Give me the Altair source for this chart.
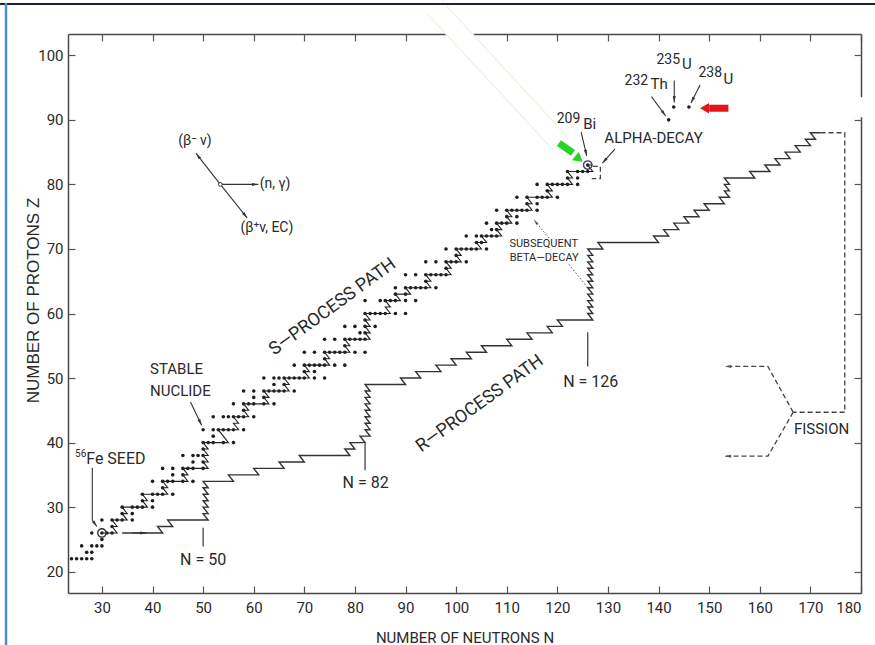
import math
import altair as alt
import pandas as pd

# ------------------------------------------------------------------
# Stable nuclides: mass numbers A of the stable isotopes for each Z
# ------------------------------------------------------------------
stable_mass = {
    22: [46, 47, 48, 49, 50],                                   # Ti
    23: [50, 51],                                               # V
    24: [50, 52, 53, 54],                                       # Cr
    25: [55],                                                   # Mn
    26: [54, 56, 57, 58],                                       # Fe
    27: [59],                                                   # Co
    28: [58, 60, 61, 62, 64],                                   # Ni
    29: [63, 65],                                               # Cu
    30: [64, 66, 67, 68, 70],                                   # Zn
    31: [69, 71],                                               # Ga
    32: [70, 72, 73, 74, 76],                                   # Ge
    33: [75],                                                   # As
    34: [74, 76, 77, 78, 80, 82],                               # Se
    35: [79, 81],                                               # Br
    36: [78, 80, 82, 83, 84, 86],                               # Kr
    37: [85, 87],                                               # Rb
    38: [84, 86, 87, 88],                                       # Sr
    39: [89],                                                   # Y
    40: [90, 91, 92, 94, 96],                                   # Zr
    41: [93],                                                   # Nb
    42: [92, 94, 95, 96, 97, 98, 100],                          # Mo
    44: [96, 98, 99, 100, 101, 102, 104],                       # Ru
    45: [103],                                                  # Rh
    46: [102, 104, 105, 106, 108, 110],                         # Pd
    47: [107, 109],                                             # Ag
    48: [106, 108, 110, 111, 112, 113, 114, 116],               # Cd
    49: [113, 115],                                             # In
    50: [112, 114, 115, 116, 117, 118, 119, 120, 122, 124],     # Sn
    51: [121, 123],                                             # Sb
    52: [120, 122, 123, 124, 125, 126, 128, 130],               # Te
    53: [127],                                                  # I
    54: [124, 126, 128, 129, 130, 131, 132, 134, 136],          # Xe
    55: [133],                                                  # Cs
    56: [130, 132, 134, 135, 136, 137, 138],                    # Ba
    57: [138, 139],                                             # La
    58: [136, 138, 140, 142],                                   # Ce
    59: [141],                                                  # Pr
    60: [142, 143, 144, 145, 146, 148, 150],                    # Nd
    62: [144, 147, 148, 149, 150, 152, 154],                    # Sm
    63: [151, 153],                                             # Eu
    64: [152, 154, 155, 156, 157, 158, 160],                    # Gd
    65: [159],                                                  # Tb
    66: [156, 158, 160, 161, 162, 163, 164],                    # Dy
    67: [165],                                                  # Ho
    68: [162, 164, 166, 167, 168, 170],                         # Er
    69: [169],                                                  # Tm
    70: [168, 170, 171, 172, 173, 174, 176],                    # Yb
    71: [175, 176],                                             # Lu
    72: [174, 176, 177, 178, 179, 180],                         # Hf
    73: [180, 181],                                             # Ta
    74: [180, 182, 183, 184, 186],                              # W
    75: [185, 187],                                             # Re
    76: [184, 186, 187, 188, 189, 190, 192],                    # Os
    77: [191, 193],                                             # Ir
    78: [190, 192, 194, 195, 196, 198],                         # Pt
    79: [197],                                                  # Au
    80: [196, 198, 199, 200, 201, 202, 204],                    # Hg
    81: [203, 205],                                             # Tl
    82: [204, 206, 207, 208],                                   # Pb
    83: [209],                                                  # Bi
}

# long-lived actinides 232Th, 235U, 238U
actinide_z = [90, 92, 92]
actinide_a = [232, 235, 238]

# s-process path: for each Z, the neutron number at which capture
# produces an unstable nucleus that beta-decays to (Z+1, N-1)
s_path_z = list(range(26, 84))
s_path_n_first = 30
s_path_n_out = [33, 33, 35, 35, 39, 39, 43, 43, 47, 47,
                51, 51, 51, 51, 55, 54, 57, 57, 59, 59,
                63, 63, 67, 67, 71, 71, 75, 75, 79, 79,
                83, 83, 83, 83, 87, 87, 89, 91, 95, 95,
                99, 99, 101, 101, 105, 106, 109, 109, 111, 111,
                115, 115, 119, 119, 123, 123, 127, 127]

# r-process path, same step convention
r_path_z = list(range(26, 89))
r_path_n_first = 34
r_path_n_out = [42, 44, 51, 51, 51, 51, 51, 51, 56, 61,
                66, 70, 79, 80, 82, 83, 83, 83, 83, 83,
                83, 83, 83, 90, 93, 97, 100, 103, 106, 111,
                115, 119, 121, 127, 127, 127, 127, 127, 127, 127,
                127, 127, 127, 127, 129, 140, 142, 144, 146, 148,
                150, 153, 154, 154, 154, 159, 162, 164, 166, 168,
                170, 171, 172]

x_ticks = list(range(30, 181, 10))
y_ticks = list(range(20, 101, 10))

# ------------------------------------------------------------------
# Layout and styles
# ------------------------------------------------------------------
W, H = 793, 559
N_DOM = [23.3, 180.0]
Z_DOM = [16.7, 103.3]
PX_N = W / (N_DOM[1] - N_DOM[0])
PX_Z = H / (Z_DOM[1] - Z_DOM[0])

NARROW = "'Liberation Sans Narrow', Roboto, 'Liberation Sans', sans-serif"
REGULAR = "'Liberation Sans', Arial, sans-serif"
INK = "#2a2a2a"
FRAME = "#4a4a4a"
HEAD = "M0,0L0.55,2.3L-0.55,2.3Z"
BIG_HEAD = "M0,0L1,1.7L-1,1.7Z"

xs = alt.Scale(domain=N_DOM, nice=False, zero=False)
ys = alt.Scale(domain=Z_DOM, nice=False, zero=False)


def X(field="n", axis=None):
    return alt.X(f"{field}:Q", scale=xs, axis=axis)


def Y(field="z", axis=None):
    return alt.Y(f"{field}:Q", scale=ys, axis=axis)


def path_table(zs, n_first, n_out):
    rows, n_in, i = [], n_first, 0
    for z, out in zip(zs, n_out):
        rows.append({"n": n_in, "z": z, "i": i})
        i += 1
        if out != n_in:
            rows.append({"n": out, "z": z, "i": i})
            i += 1
        n_in = out - 1
    return pd.DataFrame(rows)


def lines_table(lines):
    rows = []
    for k, pts in enumerate(lines):
        for i, (n, z) in enumerate(pts):
            rows.append({"n": n, "z": z, "seg": k, "i": i})
    return pd.DataFrame(rows)


def heads_table(lines):
    rows = []
    for pts in lines:
        (n0, z0), (n1, z1) = pts[-2], pts[-1]
        ang = math.degrees(math.atan2((n1 - n0) * PX_N, (z1 - z0) * PX_Z)) % 360
        rows.append({"n": n1, "z": z1, "ang": ang})
    return pd.DataFrame(rows)


# ------------------------------------------------------------------
# Tables
# ------------------------------------------------------------------
dots = pd.DataFrame(
    [{"n": a - z, "z": z} for z, masses in stable_mass.items() for a in masses]
    + [{"n": a - z, "z": z} for z, a in zip(actinide_z, actinide_a)]
)
s_path = path_table(s_path_z, s_path_n_first, s_path_n_out)
r_path = path_table(r_path_z, r_path_n_first, r_path_n_out)

solid_arrows = [
    [(53.4, 80.0), (48.6, 84.8)],
    [(53.4, 80.0), (60.9, 80.0)],
    [(53.4, 80.0), (58.7, 74.8)],
    [(47.5, 46.3), (49.7, 42.7)],
    [(28.1, 36.1), (28.1, 28.0), (29.0, 27.0)],
    [(36.0, 26.0), (38.8, 26.0)],
    [(124.7, 88.1), (125.8, 84.4)],
    [(131.4, 85.5), (128.9, 83.3)],
    [(138.6, 93.6), (141.4, 90.6)],
    [(143.1, 96.1), (143.1, 92.7)],
    [(148.2, 95.4), (146.4, 92.6)],
]
dashed_lines = [
    [(172.0, 88.0), (176.8, 88.0), (176.8, 44.7), (166.6, 44.7)],
    [(166.6, 44.7), (161.6, 51.8), (153.1, 51.8)],
    [(166.6, 44.7), (161.6, 37.9), (153.1, 37.9)],
    [(127.0, 82.8), (128.5, 82.8), (128.5, 80.9), (126.8, 80.9)],
]
dotted_lines = [
    [(118.3, 71.7), (115.4, 74.5)],
    [(122.3, 67.6), (126.0, 64.0)],
]

marker_n = [50, 82, 126]
marker_z_top = [26.8, 39.9, 57.1]
marker_z_bottom = [23.9, 35.7, 51.8]
markers = pd.DataFrame({"n": marker_n, "z": marker_z_top, "z2": marker_z_bottom})

rings = pd.DataFrame({"n": [30, 126], "z": [26, 83], "c": ["#333333", "#3b3b70"]})
origin = pd.DataFrame({"n": [53.4], "z": [80.0]})

labels_center = pd.DataFrame([
    {"n": 50.0, "z": 21.8, "t": "N = 50", "s": 16, "a": 0},
    {"n": 82.1, "z": 33.8, "t": "N = 82", "s": 16, "a": 0},
    {"n": 126.6, "z": 49.4, "t": "N = 126", "s": 16, "a": 0},
    {"n": 139.0, "z": 87.2, "t": "ALPHA-DECAY", "s": 15, "a": 0},
    {"n": 172.2, "z": 42.1, "t": "FISSION", "s": 15, "a": 0},
    {"n": 48.4, "z": 86.7, "t": "(β⁻  ν)", "s": 14, "a": 0},
    {"n": 62.6, "z": 73.2, "t": "(β⁺ν, EC)", "s": 14, "a": 0},
    {"n": 75.6, "z": 61.0, "t": "S—PROCESS PATH", "s": 18, "a": 324},
    {"n": 104.7, "z": 46.0, "t": "R—PROCESS PATH", "s": 18, "a": 324},
    {"n": 122.2, "z": 90.1, "t": "209", "s": 14, "a": 0},
    {"n": 126.4, "z": 89.3, "t": "Bi", "s": 15, "a": 0},
    {"n": 135.6, "z": 96.0, "t": "232", "s": 14, "a": 0},
    {"n": 140.1, "z": 95.5, "t": "Th", "s": 15, "a": 0},
    {"n": 141.9, "z": 99.2, "t": "235", "s": 14, "a": 0},
    {"n": 145.6, "z": 98.6, "t": "U", "s": 15, "a": 0},
    {"n": 150.2, "z": 97.3, "t": "238", "s": 14, "a": 0},
    {"n": 153.8, "z": 96.4, "t": "U", "s": 15, "a": 0},
    {"n": 117.3, "z": 70.7, "t": "SUBSEQUENT", "s": 11, "a": 0},
    {"n": 117.4, "z": 68.6, "t": "BETA—DECAY", "s": 11, "a": 0},
])
labels_left = pd.DataFrame([
    {"n": 61.2, "z": 80.0, "t": "(n, γ)", "s": 14},
    {"n": 39.5, "z": 51.4, "t": "STABLE", "s": 15},
    {"n": 39.5, "z": 48.0, "t": "NUCLIDE", "s": 15},
    {"n": 26.9, "z": 37.5, "t": "Fe SEED", "s": 16},
    {"n": 24.7, "z": 38.3, "t": "56", "s": 10},
])

# overlays: pale streak, green and red pointers, white patch
streak = pd.DataFrame({"n": [95.8, 120.5], "z": [107.4, 86.4], "i": [0, 1]})
green_shaft = pd.DataFrame({"n": [120.3, 123.1], "z": [86.4, 84.9], "i": [0, 1]})
green_head = heads_table([[(120.3, 86.4), (125.0, 83.5)]])
red_shaft = pd.DataFrame({"n": [153.8, 150.0], "z": [91.8, 91.8], "i": [0, 1]})
red_head = heads_table([[(153.8, 91.8), (148.2, 91.8)]])
patch = pd.DataFrame({"n": [153.5], "n2": [182.8], "z": [93.5], "z2": [90.4]})

one = pd.DataFrame({"k": [0]})

# ------------------------------------------------------------------
# Axes (frame lines and inward ticks)
# ------------------------------------------------------------------
ax_bottom = alt.Axis(orient="bottom", values=x_ticks, ticks=False, grid=False,
                     domain=True, domainColor=FRAME, domainWidth=1.5,
                     labelFont=NARROW, labelFontSize=15, labelColor=INK, labelPadding=7,
                     title="NUMBER OF NEUTRONS N", titleFont=NARROW, titleFontSize=15,
                     titleFontWeight="normal", titleColor=INK, titleY=49,
                     titleBaseline="alphabetic")
ax_left = alt.Axis(orient="left", values=y_ticks, ticks=False, grid=False,
                   domain=True, domainColor=FRAME, domainWidth=1.5,
                   labelFont=NARROW, labelFontSize=15, labelColor=INK, labelPadding=5,
                   title="NUMBER OF PROTONS Z", titleFont=REGULAR, titleFontSize=17,
                   titleFontWeight="normal", titleColor=INK, titleAngle=270,
                   titleX=-35, titleY=266, titleAlign="center", titleBaseline="middle")


def tick_axis(orient, values):
    return alt.Axis(orient=orient, values=values, labels=False, domain=False, grid=False,
                    ticks=True, tickSize=7, tickColor="#555555", tickWidth=1.2,
                    offset=-7, title=None)


def frame_axis(orient, values):
    return alt.Axis(orient=orient, values=values, labels=False, ticks=False, grid=False,
                    domain=True, domainColor=FRAME, domainWidth=1.5, title=None)


# ------------------------------------------------------------------
# Layers
# ------------------------------------------------------------------
dots_layer = alt.Chart(dots).mark_circle(size=13, color="#1e1e1e", opacity=1).encode(
    x=X(axis=ax_bottom), y=Y(axis=ax_left))

s_layer = alt.Chart(s_path).mark_line(color="#222222", strokeWidth=1.1).encode(
    x=X(axis=tick_axis("bottom", x_ticks)), y=Y(axis=tick_axis("left", y_ticks)),
    order="i:Q")

r_layer = alt.Chart(r_path).mark_line(color="#333333", strokeWidth=1.4).encode(
    x=X(axis=frame_axis("top", x_ticks)), y=Y(axis=frame_axis("right", y_ticks)),
    order="i:Q")

marker_layer = alt.Chart(markers).mark_rule(color="#444444", strokeWidth=1.3).encode(
    x=X(axis=tick_axis("top", x_ticks)), y=Y(axis=tick_axis("right", y_ticks)),
    y2="z2:Q")

solid_layer = alt.Chart(lines_table(solid_arrows)).mark_line(
    color="#333333", strokeWidth=1.1).encode(x=X(), y=Y(), detail="seg:N", order="i:Q")
solid_heads = alt.Chart(heads_table(solid_arrows)).mark_point(
    shape=HEAD, filled=True, size=30, color="#333333", opacity=1).encode(
    x=X(), y=Y(), angle=alt.Angle("ang:Q", scale=None))

dashed_layer = alt.Chart(lines_table(dashed_lines)).mark_line(
    color="#444444", strokeWidth=1.3, strokeDash=[5, 3]).encode(
    x=X(), y=Y(), detail="seg:N", order="i:Q")
dashed_heads = alt.Chart(heads_table(dashed_lines[1:3])).mark_point(
    shape=HEAD, filled=True, size=30, color="#555555", opacity=1).encode(
    x=X(), y=Y(), angle=alt.Angle("ang:Q", scale=None))

dotted_layer = alt.Chart(lines_table(dotted_lines)).mark_line(
    color="#555555", strokeWidth=1, strokeDash=[1.5, 2]).encode(
    x=X(), y=Y(), detail="seg:N", order="i:Q")
dotted_heads = alt.Chart(heads_table(dotted_lines[:1])).mark_point(
    shape=HEAD, filled=True, size=22, color="#555555", opacity=1).encode(
    x=X(), y=Y(), angle=alt.Angle("ang:Q", scale=None))

ring_layer = alt.Chart(rings).mark_point(shape="circle", size=70, filled=False,
                                         strokeWidth=1.4, opacity=1).encode(
    x=X(), y=Y(), color=alt.Color("c:N", scale=None))
origin_layer = alt.Chart(origin).mark_point(shape="circle", size=14, filled=True,
                                            fill="white", stroke="#333333",
                                            strokeWidth=1, opacity=1).encode(x=X(), y=Y())

text_center = alt.Chart(labels_center).mark_text(
    font=NARROW, color=INK, align="center", baseline="middle").encode(
    x=X(), y=Y(), text="t:N", size=alt.Size("s:Q", scale=None),
    angle=alt.Angle("a:Q", scale=None))
text_left = alt.Chart(labels_left).mark_text(
    font=NARROW, color=INK, align="left", baseline="middle").encode(
    x=X(), y=Y(), text="t:N", size=alt.Size("s:Q", scale=None))

streak_edge = alt.Chart(streak).mark_line(color="#eaf8e4", strokeWidth=21,
                                          strokeCap="butt").encode(x=X(), y=Y(), order="i:Q")
streak_core = alt.Chart(streak).mark_line(color="#ffffff", strokeWidth=18,
                                          strokeCap="butt").encode(x=X(), y=Y(), order="i:Q")
green_line = alt.Chart(green_shaft).mark_line(color="#27d327", strokeWidth=7,
                                              strokeCap="butt").encode(x=X(), y=Y(), order="i:Q")
green_tip = alt.Chart(green_head).mark_point(shape=BIG_HEAD, filled=True, size=120,
                                             color="#27d327", opacity=1).encode(
    x=X(), y=Y(), angle=alt.Angle("ang:Q", scale=None))
patch_layer = alt.Chart(patch).mark_rect(color="#ffffff").encode(
    x=X(), x2="n2:Q", y=Y(), y2="z2:Q")
red_line = alt.Chart(red_shaft).mark_line(color="#e3141b", strokeWidth=7,
                                          strokeCap="butt").encode(x=X(), y=Y(), order="i:Q")
red_tip = alt.Chart(red_head).mark_point(shape=BIG_HEAD, filled=True, size=110,
                                         color="#e3141b", opacity=1).encode(
    x=X(), y=Y(), angle=alt.Angle("ang:Q", scale=None))

# page border lines
border_top = alt.Chart(one).mark_rule(color="#1b2140", strokeWidth=2).encode(
    x=alt.value(-68), x2=alt.value(807), y=alt.value(-30))
border_left = alt.Chart(one).mark_rule(color="#4a90d9", strokeWidth=2.5).encode(
    x=alt.value(-62), y=alt.value(-31), y2=alt.value(611))

chart = alt.layer(
    dots_layer, s_layer, r_layer, marker_layer,
    solid_layer, solid_heads, dashed_layer, dashed_heads, dotted_layer, dotted_heads,
    ring_layer, origin_layer, text_center, text_left,
    patch_layer, streak_edge, streak_core, green_line, green_tip, red_line, red_tip,
    border_top, border_left,
).resolve_axis(x="independent", y="independent").properties(
    width=W, height=H,
    autosize=alt.AutoSizeParams(type="none"),
    padding={"left": 68, "top": 34, "right": 14, "bottom": 52},
    background="white",
).configure_view(strokeWidth=0)

chart.save("out.html", embed_options={"renderer": "svg", "actions": False})
